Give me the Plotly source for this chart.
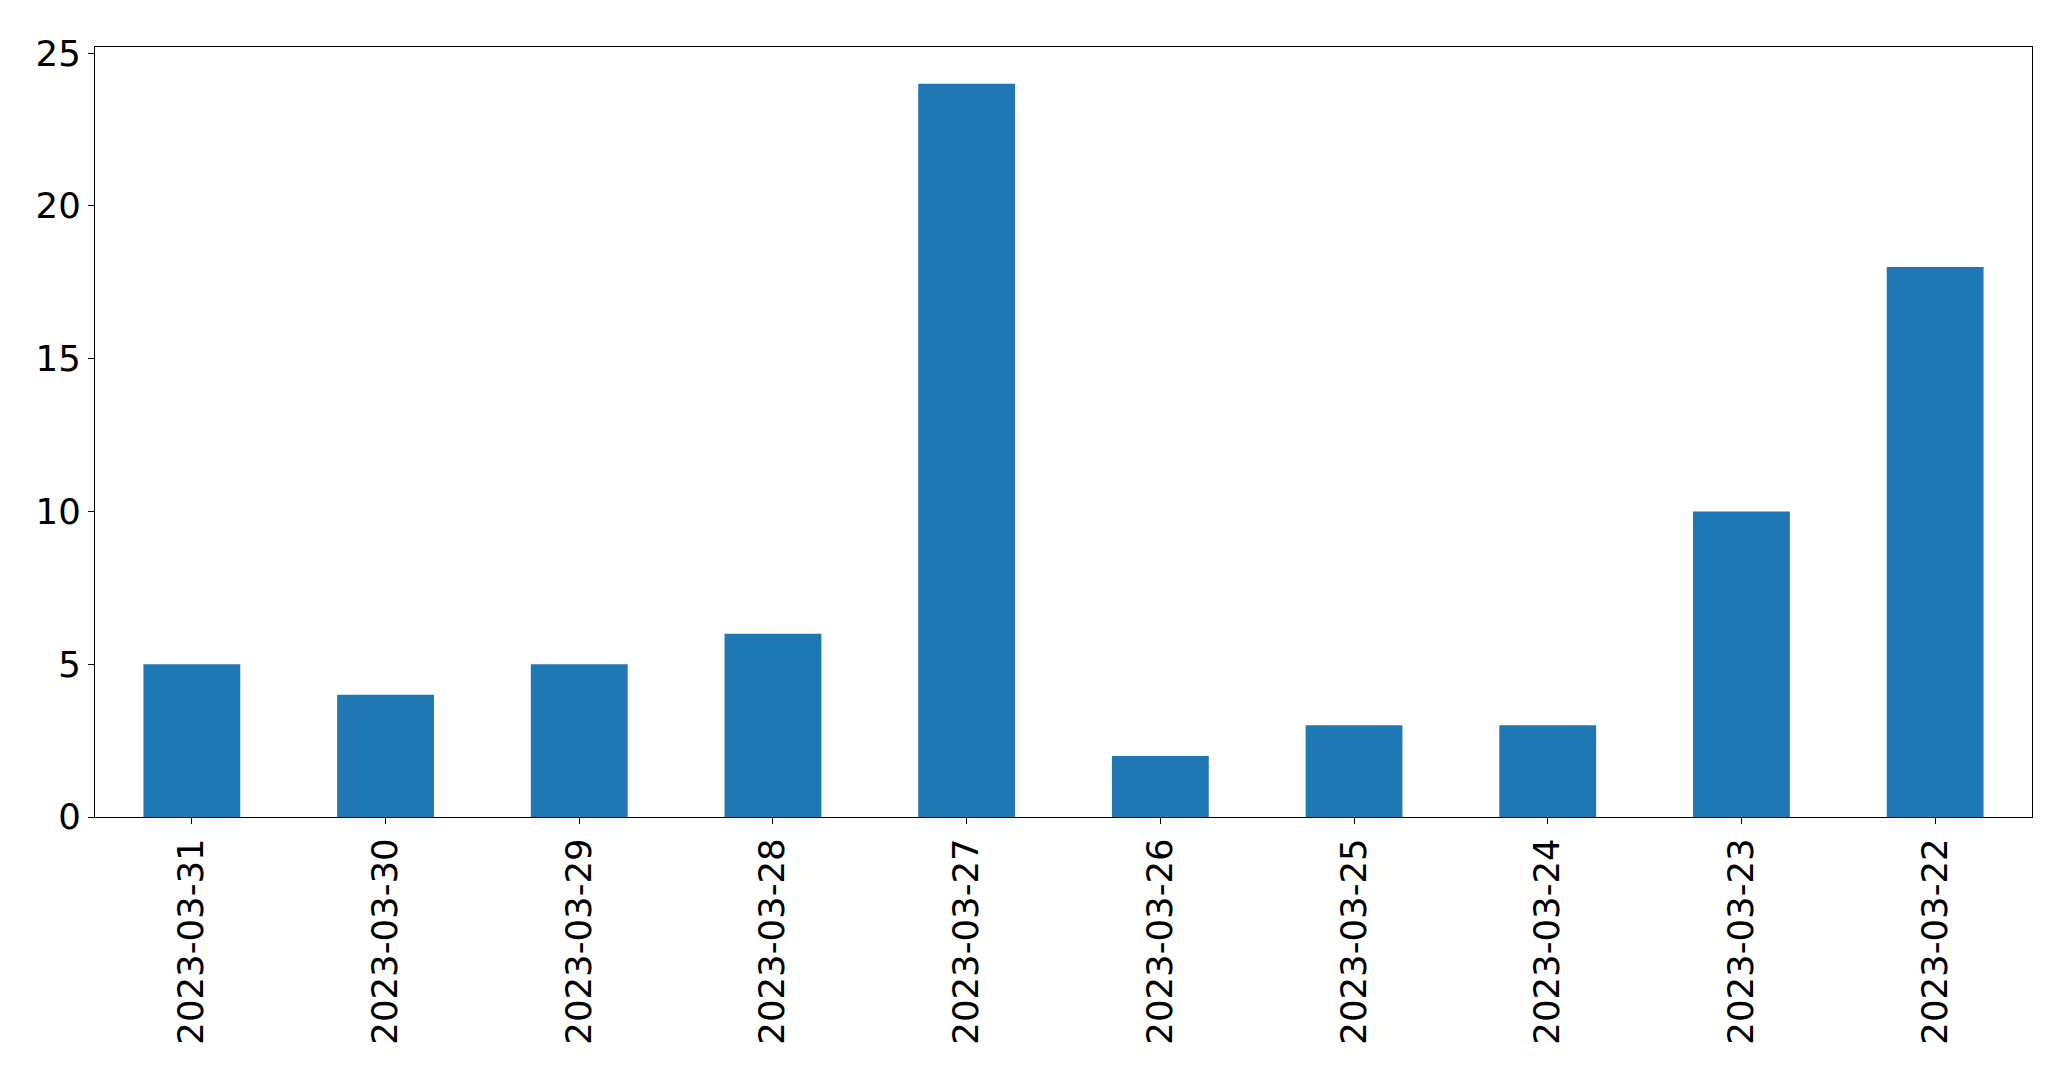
import plotly.graph_objects as go

dates = ["2023-03-31", "2023-03-30", "2023-03-29", "2023-03-28", "2023-03-27",
         "2023-03-26", "2023-03-25", "2023-03-24", "2023-03-23", "2023-03-22"]
counts = [5, 4, 5, 6, 24, 2, 3, 3, 10, 18]

fig = go.Figure(go.Bar(x=dates, y=counts, marker_color="#1f77b4",
                       marker_line_width=0, width=0.5))

axis_common = dict(showline=True, linecolor="black", linewidth=1.3, mirror=True,
                   ticks="outside", ticklen=6, tickwidth=1.3, tickcolor="black",
                   showgrid=False, zeroline=False,
                   tickfont=dict(family="DejaVu Sans", size=35.5, color="black"))

fig.update_layout(
    width=2071, height=1069,
    margin=dict(l=87, r=47, t=39, b=260),
    plot_bgcolor="white", paper_bgcolor="white",
    showlegend=False, bargap=0.5,
    xaxis=dict(type="category", range=[-0.5, 9.5], tickangle=-90, **axis_common),
    yaxis=dict(range=[0, 25.2], tickvals=[0, 5, 10, 15, 20, 25], **axis_common),
)

fig.write_html("out.html")
